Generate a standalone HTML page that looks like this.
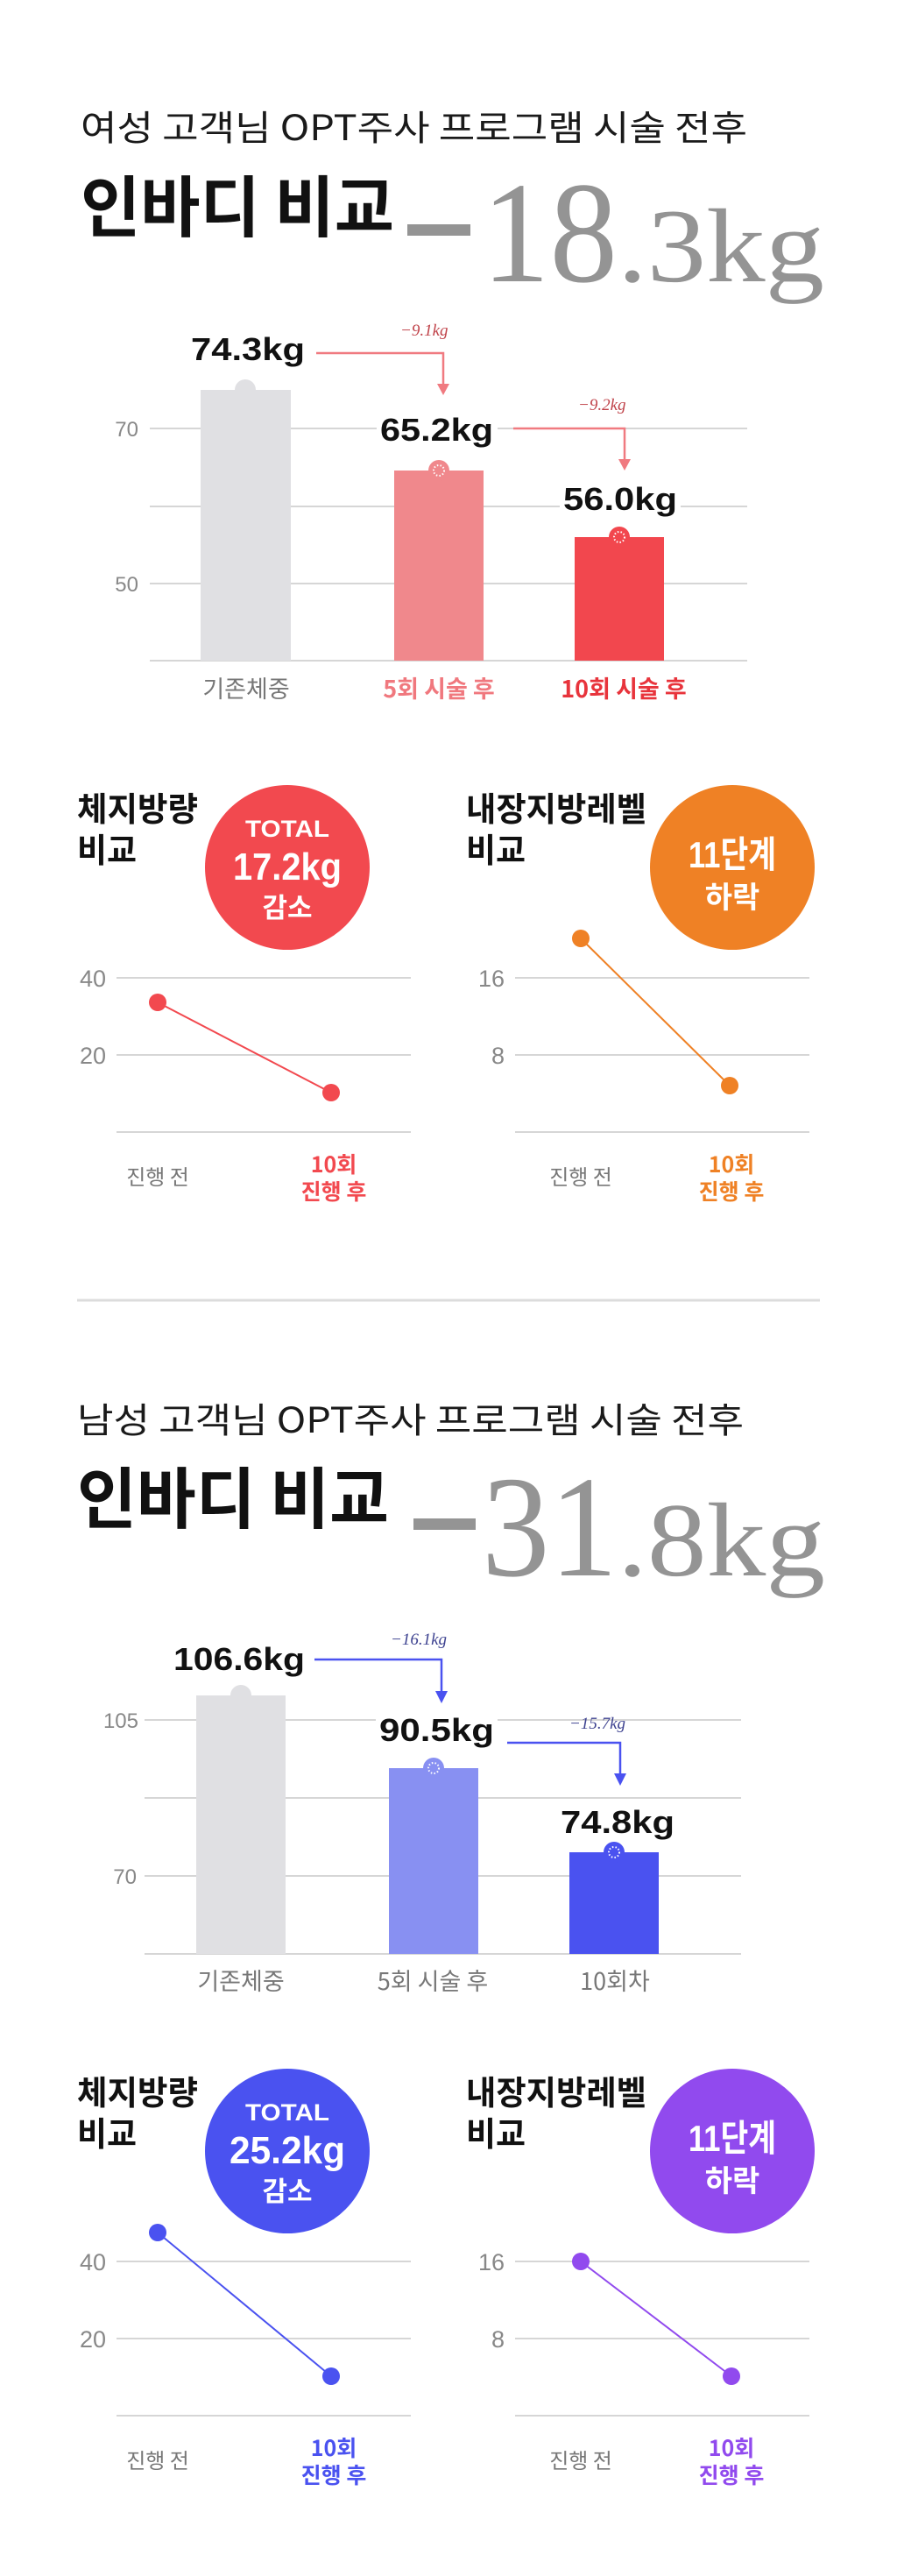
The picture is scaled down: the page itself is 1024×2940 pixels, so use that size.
<!DOCTYPE html>
<html><head><meta charset="utf-8"><style>
html,body{margin:0;padding:0;background:#fff;}
svg{display:block;}
.k{font-family:"Liberation Sans","Noto Sans CJK KR",sans-serif;}
</style></head><body>
<svg width="1024" height="2940" viewBox="0 0 1024 2940" xmlns="http://www.w3.org/2000/svg" class="k" font-family="Liberation Sans, Noto Sans CJK KR, sans-serif">
<defs>
<g id="dotring"><circle r="6" fill="none" stroke="#fff" stroke-width="2" stroke-dasharray="1.5 2.2"/></g>
</defs>

<!-- ============ SECTION 1 ============ -->
<g>
<text x="92" y="160" font-size="40" fill="#1a1a1a" textLength="761" lengthAdjust="spacingAndGlyphs" font-family="Noto Sans CJK KR, sans-serif">여성 고객님 OPT주사 프로그램 시술 전후</text>
<text x="92" y="264" font-size="76" font-weight="bold" fill="#111" textLength="358" lengthAdjust="spacingAndGlyphs" font-family="Noto Sans CJK KR, sans-serif">인바디 비교</text>
<rect x="465" y="256" width="72" height="13" fill="#949494"/>
<text x="550" y="321" font-size="165" fill="#949494" font-family="Liberation Serif, serif" textLength="155" lengthAdjust="spacingAndGlyphs">18</text>
<text x="705" y="321" font-size="120" fill="#949494" font-family="Liberation Serif, serif" textLength="236" lengthAdjust="spacingAndGlyphs">.3kg</text>

<!-- grid -->
<g stroke="#d6d6d6" stroke-width="2">
<line x1="171" y1="489" x2="853" y2="489"/>
<line x1="171" y1="578" x2="853" y2="578"/>
<line x1="171" y1="666" x2="853" y2="666"/>
<line x1="171" y1="754" x2="853" y2="754"/>
</g>
<text x="158" y="498" font-size="24" fill="#888" text-anchor="end">70</text>
<text x="158" y="675" font-size="24" fill="#888" text-anchor="end">50</text>
<!-- bars -->
<rect x="229" y="445" width="103" height="309" fill="#e0e0e3"/>
<circle cx="280" cy="445" r="12" fill="#e0e0e3"/>
<rect x="450" y="537" width="102" height="217" fill="#f0888c"/>
<circle cx="501" cy="537" r="12" fill="#f0888c"/>
<use href="#dotring" x="501" y="537"/>
<rect x="656" y="613" width="102" height="141" fill="#f2474e"/>
<circle cx="707" cy="613" r="12" fill="#f2474e"/>
<use href="#dotring" x="707" y="613"/>
<!-- labels -->
<text x="218" y="411" font-size="36" font-weight="bold" fill="#111" textLength="130" lengthAdjust="spacingAndGlyphs">74.3kg</text>
<rect x="430" y="470" width="138" height="38" fill="#fff"/>
<text x="434" y="503" font-size="36" font-weight="bold" fill="#111" textLength="129" lengthAdjust="spacingAndGlyphs">65.2kg</text>
<rect x="639" y="552" width="138" height="34" fill="#fff"/>
<text x="643" y="582" font-size="36" font-weight="bold" fill="#111" textLength="130" lengthAdjust="spacingAndGlyphs">56.0kg</text>
<!-- arrows -->
<g stroke="#f07a80" stroke-width="2.5" fill="none">
<polyline points="361,403 506,403 506,440"/>
<polyline points="586,489 713,489 713,526"/>
</g>
<polygon points="499,438 513,438 506,451" fill="#f07a80"/>
<polygon points="706,524 720,524 713,537" fill="#f07a80"/>
<text x="457" y="383" font-size="19" fill="#c0434a" font-style="italic" font-family="Liberation Serif, serif">−9.1kg</text>
<text x="660" y="468" font-size="19" fill="#c0434a" font-style="italic" font-family="Liberation Serif, serif">−9.2kg</text>
<text x="281" y="796" font-size="27" fill="#777" text-anchor="middle" font-family="Noto Sans CJK KR, sans-serif">기존체중</text>
<text x="501" y="796" font-size="27" fill="#f0787e" font-weight="bold" text-anchor="middle" font-family="Noto Sans CJK KR, sans-serif">5회 시술 후</text>
<text x="712" y="796" font-size="27" fill="#e8343c" font-weight="bold" text-anchor="middle" font-family="Noto Sans CJK KR, sans-serif">10회 시술 후</text>
</g>

<!-- lower 1 -->
<g>
<text x="88" y="937" font-size="38" font-weight="bold" fill="#111" textLength="138" lengthAdjust="spacingAndGlyphs" font-family="Noto Sans CJK KR, sans-serif">체지방량</text>
<text x="88" y="984" font-size="38" font-weight="bold" fill="#111" textLength="68" lengthAdjust="spacingAndGlyphs" font-family="Noto Sans CJK KR, sans-serif">비교</text>
<circle cx="328" cy="990" r="94" fill="#f2494f"/>
<text x="328" y="955" font-size="27" font-weight="bold" fill="#fff" text-anchor="middle" textLength="96" lengthAdjust="spacingAndGlyphs">TOTAL</text>
<text x="328" y="1004" font-size="44" font-weight="bold" fill="#fff" text-anchor="middle" textLength="124" lengthAdjust="spacingAndGlyphs">17.2kg</text>
<text x="328" y="1047" font-size="31" font-weight="bold" fill="#fff" text-anchor="middle" font-family="Noto Sans CJK KR, sans-serif">감소</text>
<g stroke="#d6d6d6" stroke-width="2">
<line x1="133" y1="1116" x2="469" y2="1116"/><line x1="133" y1="1204" x2="469" y2="1204"/><line x1="133" y1="1292" x2="469" y2="1292"/>
</g>
<text x="121" y="1126" font-size="27" fill="#888" text-anchor="end">40</text>
<text x="121" y="1214" font-size="27" fill="#888" text-anchor="end">20</text>
<line x1="180" y1="1144" x2="378" y2="1247" stroke="#f2494f" stroke-width="2"/>
<circle cx="180" cy="1144" r="10" fill="#f2494f"/><circle cx="378" cy="1247" r="10" fill="#f2494f"/>
<text x="180" y="1352" font-size="24" fill="#777" text-anchor="middle" font-family="Noto Sans CJK KR, sans-serif">진행 전</text>
<text x="381" y="1338" font-size="25" font-weight="bold" fill="#f2494f" text-anchor="middle" font-family="Noto Sans CJK KR, sans-serif">10회</text>
<text x="381" y="1369" font-size="25" font-weight="bold" fill="#f2494f" text-anchor="middle" font-family="Noto Sans CJK KR, sans-serif">진행 후</text>

<text x="532" y="937" font-size="38" font-weight="bold" fill="#111" textLength="206" lengthAdjust="spacingAndGlyphs" font-family="Noto Sans CJK KR, sans-serif">내장지방레벨</text>
<text x="532" y="984" font-size="38" font-weight="bold" fill="#111" textLength="68" lengthAdjust="spacingAndGlyphs" font-family="Noto Sans CJK KR, sans-serif">비교</text>
<circle cx="836" cy="990" r="94" fill="#ef8125"/>
<text x="836" y="990" font-size="42" font-weight="bold" fill="#fff" text-anchor="middle" textLength="100" lengthAdjust="spacingAndGlyphs" font-family="Liberation Sans, Noto Sans CJK KR, sans-serif">11단계</text>
<text x="836" y="1036" font-size="34" font-weight="bold" fill="#fff" text-anchor="middle" font-family="Noto Sans CJK KR, sans-serif">하락</text>
<g stroke="#d6d6d6" stroke-width="2">
<line x1="588" y1="1116" x2="924" y2="1116"/><line x1="588" y1="1204" x2="924" y2="1204"/><line x1="588" y1="1292" x2="924" y2="1292"/>
</g>
<text x="576" y="1126" font-size="27" fill="#888" text-anchor="end">16</text>
<text x="576" y="1214" font-size="27" fill="#888" text-anchor="end">8</text>
<line x1="663" y1="1071" x2="833" y2="1239" stroke="#ef8125" stroke-width="2"/>
<circle cx="663" cy="1071" r="10" fill="#ef8125"/><circle cx="833" cy="1239" r="10" fill="#ef8125"/>
<text x="663" y="1352" font-size="24" fill="#777" text-anchor="middle" font-family="Noto Sans CJK KR, sans-serif">진행 전</text>
<text x="835" y="1338" font-size="25" font-weight="bold" fill="#ef8125" text-anchor="middle" font-family="Noto Sans CJK KR, sans-serif">10회</text>
<text x="835" y="1369" font-size="25" font-weight="bold" fill="#ef8125" text-anchor="middle" font-family="Noto Sans CJK KR, sans-serif">진행 후</text>
</g>

<line x1="88" y1="1484" x2="936" y2="1484" stroke="#dcdcdc" stroke-width="3"/>

<!-- ============ SECTION 2 ============ -->
<g>
<text x="88" y="1635" font-size="40" fill="#1a1a1a" textLength="761" lengthAdjust="spacingAndGlyphs" font-family="Noto Sans CJK KR, sans-serif">남성 고객님 OPT주사 프로그램 시술 전후</text>
<text x="88" y="1738" font-size="76" font-weight="bold" fill="#111" textLength="356" lengthAdjust="spacingAndGlyphs" font-family="Noto Sans CJK KR, sans-serif">인바디 비교</text>
<rect x="472" y="1733" width="71" height="13" fill="#949494"/>
<text x="550" y="1798" font-size="165" fill="#949494" font-family="Liberation Serif, serif" textLength="155" lengthAdjust="spacingAndGlyphs">31</text>
<text x="705" y="1798" font-size="120" fill="#949494" font-family="Liberation Serif, serif" textLength="237" lengthAdjust="spacingAndGlyphs">.8kg</text>

<g stroke="#d6d6d6" stroke-width="2">
<line x1="165" y1="1963" x2="846" y2="1963"/>
<line x1="165" y1="2052" x2="846" y2="2052"/>
<line x1="165" y1="2141" x2="846" y2="2141"/>
<line x1="165" y1="2230" x2="846" y2="2230"/>
</g>
<text x="158" y="1972" font-size="24" fill="#888" text-anchor="end">105</text>
<text x="156" y="2150" font-size="24" fill="#888" text-anchor="end">70</text>
<rect x="224" y="1935" width="102" height="295" fill="#e0e0e3"/>
<circle cx="275" cy="1935" r="12" fill="#e0e0e3"/>
<rect x="444" y="2018" width="102" height="212" fill="#8890f2"/>
<circle cx="495" cy="2018" r="12" fill="#8890f2"/>
<use href="#dotring" x="495" y="2018"/>
<rect x="650" y="2114" width="102" height="116" fill="#4a52f0"/>
<circle cx="701" cy="2114" r="12" fill="#4a52f0"/>
<use href="#dotring" x="701" y="2114"/>
<text x="198" y="1906" font-size="36" font-weight="bold" fill="#111" textLength="150" lengthAdjust="spacingAndGlyphs">106.6kg</text>
<rect x="429" y="1955" width="139" height="38" fill="#fff"/>
<text x="433" y="1987" font-size="36" font-weight="bold" fill="#111" textLength="131" lengthAdjust="spacingAndGlyphs">90.5kg</text>
<text x="640" y="2092" font-size="36" font-weight="bold" fill="#111" textLength="130" lengthAdjust="spacingAndGlyphs">74.8kg</text>
<g stroke="#4a52f0" stroke-width="2.5" fill="none">
<polyline points="359,1894 504,1894 504,1932"/>
<polyline points="579,1989 708,1989 708,2026"/>
</g>
<polygon points="497,1930 511,1930 504,1944" fill="#4a52f0"/>
<polygon points="701,2024 715,2024 708,2038" fill="#4a52f0"/>
<text x="446" y="1877" font-size="19" fill="#3d4290" font-style="italic" font-family="Liberation Serif, serif">−16.1kg</text>
<text x="650" y="1973" font-size="19" fill="#3d4290" font-style="italic" font-family="Liberation Serif, serif">−15.7kg</text>
<text x="275" y="2271" font-size="27" fill="#777" text-anchor="middle" font-family="Noto Sans CJK KR, sans-serif">기존체중</text>
<text x="494" y="2271" font-size="27" fill="#777" text-anchor="middle" font-family="Noto Sans CJK KR, sans-serif">5회 시술 후</text>
<text x="702" y="2271" font-size="27" fill="#777" text-anchor="middle" font-family="Noto Sans CJK KR, sans-serif">10회차</text>
</g>

<g transform="translate(0,1465)">
<text x="88" y="937" font-size="38" font-weight="bold" fill="#111" textLength="138" lengthAdjust="spacingAndGlyphs" font-family="Noto Sans CJK KR, sans-serif">체지방량</text>
<text x="88" y="984" font-size="38" font-weight="bold" fill="#111" textLength="68" lengthAdjust="spacingAndGlyphs" font-family="Noto Sans CJK KR, sans-serif">비교</text>
<circle cx="328" cy="990" r="94" fill="#4a52f0"/>
<text x="328" y="955" font-size="27" font-weight="bold" fill="#fff" text-anchor="middle" textLength="96" lengthAdjust="spacingAndGlyphs">TOTAL</text>
<text x="328" y="1004" font-size="44" font-weight="bold" fill="#fff" text-anchor="middle" textLength="132" lengthAdjust="spacingAndGlyphs">25.2kg</text>
<text x="328" y="1047" font-size="31" font-weight="bold" fill="#fff" text-anchor="middle" font-family="Noto Sans CJK KR, sans-serif">감소</text>
<g stroke="#d6d6d6" stroke-width="2">
<line x1="133" y1="1116" x2="469" y2="1116"/><line x1="133" y1="1204" x2="469" y2="1204"/><line x1="133" y1="1292" x2="469" y2="1292"/>
</g>
<text x="121" y="1126" font-size="27" fill="#888" text-anchor="end">40</text>
<text x="121" y="1214" font-size="27" fill="#888" text-anchor="end">20</text>
<line x1="180" y1="1083" x2="378" y2="1247" stroke="#4a52f0" stroke-width="2"/>
<circle cx="180" cy="1083" r="10" fill="#4a52f0"/><circle cx="378" cy="1247" r="10" fill="#4a52f0"/>
<text x="180" y="1352" font-size="24" fill="#777" text-anchor="middle" font-family="Noto Sans CJK KR, sans-serif">진행 전</text>
<text x="381" y="1338" font-size="25" font-weight="bold" fill="#4a52f0" text-anchor="middle" font-family="Noto Sans CJK KR, sans-serif">10회</text>
<text x="381" y="1369" font-size="25" font-weight="bold" fill="#4a52f0" text-anchor="middle" font-family="Noto Sans CJK KR, sans-serif">진행 후</text>

<text x="532" y="937" font-size="38" font-weight="bold" fill="#111" textLength="206" lengthAdjust="spacingAndGlyphs" font-family="Noto Sans CJK KR, sans-serif">내장지방레벨</text>
<text x="532" y="984" font-size="38" font-weight="bold" fill="#111" textLength="68" lengthAdjust="spacingAndGlyphs" font-family="Noto Sans CJK KR, sans-serif">비교</text>
<circle cx="836" cy="990" r="94" fill="#914aee"/>
<text x="836" y="990" font-size="42" font-weight="bold" fill="#fff" text-anchor="middle" textLength="100" lengthAdjust="spacingAndGlyphs" font-family="Liberation Sans, Noto Sans CJK KR, sans-serif">11단계</text>
<text x="836" y="1036" font-size="34" font-weight="bold" fill="#fff" text-anchor="middle" font-family="Noto Sans CJK KR, sans-serif">하락</text>
<g stroke="#d6d6d6" stroke-width="2">
<line x1="588" y1="1116" x2="924" y2="1116"/><line x1="588" y1="1204" x2="924" y2="1204"/><line x1="588" y1="1292" x2="924" y2="1292"/>
</g>
<text x="576" y="1126" font-size="27" fill="#888" text-anchor="end">16</text>
<text x="576" y="1214" font-size="27" fill="#888" text-anchor="end">8</text>
<line x1="663" y1="1116" x2="835" y2="1247" stroke="#914aee" stroke-width="2"/>
<circle cx="663" cy="1116" r="10" fill="#914aee"/><circle cx="835" cy="1247" r="10" fill="#914aee"/>
<text x="663" y="1352" font-size="24" fill="#777" text-anchor="middle" font-family="Noto Sans CJK KR, sans-serif">진행 전</text>
<text x="835" y="1338" font-size="25" font-weight="bold" fill="#914aee" text-anchor="middle" font-family="Noto Sans CJK KR, sans-serif">10회</text>
<text x="835" y="1369" font-size="25" font-weight="bold" fill="#914aee" text-anchor="middle" font-family="Noto Sans CJK KR, sans-serif">진행 후</text>
</g>
</svg>
</body></html>
